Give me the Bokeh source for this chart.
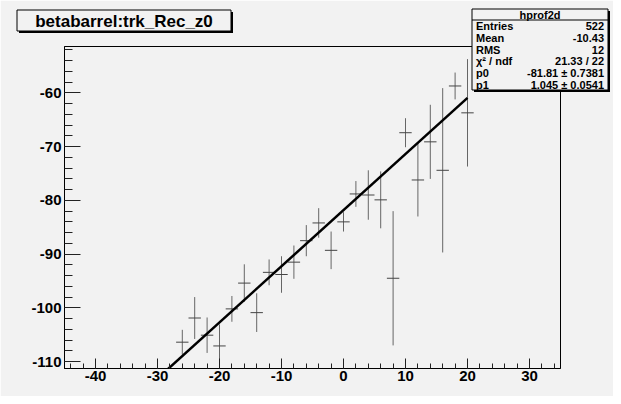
from bokeh.plotting import figure
from bokeh.layouts import column
from bokeh.models import SingleIntervalTicker, Range1d, PrintfTickFormatter
from bokeh.core.properties import value
from bokeh.embed import file_html
from bokeh.resources import INLINE

# ---------------- data ----------------
title_text = "betabarrel:trk_Rec_z0"
bin_centers = [-26, -24, -22, -20, -18, -16, -14, -12, -10, -8, -6, -4, -2,
               0, 2, 4, 6, 8, 10, 12, 14, 16, 18, 20]
bin_means = [-106.4, -101.9, -105.1, -107.1, -100.2, -95.4, -100.9, -93.4, -93.8,
             -91.5, -87.5, -84.2, -89.3, -84.0, -78.8, -79.0, -79.9, -94.5,
             -67.4, -76.2, -69.1, -74.4, -58.7, -63.7]
bin_errors = [2.3, 3.9, 3.3, 4.0, 2.4, 3.5, 3.6, 2.4, 3.4, 3.1, 2.9, 2.75, 3.5,
              1.8, 2.4, 4.6, 5.3, 12.5, 2.7, 6.8, 6.9, 15.3, 2.5, 10.0]
bin_width = 2.0
fit_p0 = -81.81
fit_p1 = 1.045
fit_x = [-30, 20]
stats_title = "hprof2d"
stats_names = ["Entries", "Mean", "RMS", "\u03c7\u00b2 / ndf", "p0", "p1"]
stats_values = ["522", "-10.43", "12", "21.33 / 22",
                "-81.81 \u00b1 0.7381", "1.045 \u00b1 0.0541"]

X0, X1 = -45, 35
Y0, Y1 = -111.3, -51.35

# ---------------- layout ----------------
W, H = 613, 396
FL, FT, FW, FH = 64, 46, 496, 322
BG = "#f2f2f2"
FONT = "Liberation Sans"

p = figure(width=W, height=H, output_backend="svg", toolbar_location=None,
           x_range=Range1d(X0, X1), y_range=Range1d(Y0, Y1),
           frame_width=FW, frame_height=FH,
           min_border_left=FL, min_border_right=W - FL - FW,
           min_border_top=FT, min_border_bottom=H - FT - FH)
p.frame_align = False
p.background_fill_color = BG
p.border_fill_color = BG
p.outline_line_color = "black"
p.outline_line_width = 1
p.grid.visible = False

for ax, tin, mtin in ((p.xaxis[0], 10, 5), (p.yaxis[0], 16, 8)):
    ax.ticker = SingleIntervalTicker(interval=10, num_minor_ticks=5)
    ax.formatter = PrintfTickFormatter(format="%d")
    ax.axis_line_color = "black"
    ax.major_tick_in = tin
    ax.major_tick_out = 0
    ax.minor_tick_in = mtin
    ax.minor_tick_out = 0
    ax.major_tick_line_color = "#222222"
    ax.minor_tick_line_color = "#222222"
    ax.major_label_text_font = FONT
    ax.major_label_text_font_style = "bold"
    ax.major_label_text_font_size = "15px"
    ax.major_label_text_color = "black"
p.xaxis.major_label_standoff = 2
p.yaxis.major_label_standoff = 3

# error crosses
hx0 = [c - bin_width / 2 for c in bin_centers]
hx1 = [c + bin_width / 2 for c in bin_centers]
vy0 = [m - e for m, e in zip(bin_means, bin_errors)]
vy1 = [m + e for m, e in zip(bin_means, bin_errors)]
p.segment(x0=bin_centers, x1=bin_centers, y0=vy0, y1=vy1, line_color="#666666", line_width=1)
p.segment(x0=hx0, x1=hx1, y0=bin_means, y1=bin_means, line_color="#444444", line_width=1)

# fit line
fit_y = [fit_p0 + fit_p1 * x for x in fit_x]
p.line(fit_x, fit_y, line_color="black", line_width=2.5)

# ---------------- overlay (title box + stats box) in pixel space ----------------
o = figure(width=W, height=H, output_backend="svg", toolbar_location=None,
           x_range=Range1d(0, W), y_range=Range1d(H, 0),
           x_axis_type=None, y_axis_type=None, min_border=0,
           frame_width=W, frame_height=H,
           margin=(-H, 0, 0, 0))
o.frame_align = False
o.background_fill_alpha = 0
o.border_fill_alpha = 0
o.outline_line_color = None

# title box
tl, tr, tt, tb = 16.5, 230.5, 9.5, 30.5
o.quad(left=[tl + 2], right=[tr + 2], top=[tt + 2], bottom=[tb + 2],
       fill_color="black", line_color=None)
o.quad(left=[tl], right=[tr], top=[tt], bottom=[tb],
       fill_color=BG, line_color="black", line_width=1)
o.text(x=[(tl + tr) / 2], y=[(tt + tb) / 2 + 0.5], text=[title_text],
       text_font=value(FONT), text_font_style="bold", text_font_size="17px",
       text_align="center", text_baseline="middle", text_color="black")

# stats box
sl, sr, st, sb = 471.5, 607.5, 8.5, 89.5
o.quad(left=[sl + 2], right=[sr + 2], top=[st + 2], bottom=[sb + 2],
       fill_color="black", line_color=None)
o.quad(left=[sl], right=[sr], top=[st], bottom=[sb],
       fill_color=BG, line_color="black", line_width=1)
o.segment(x0=[sl], x1=[sr], y0=[19.5], y1=[19.5], line_color="black", line_width=1)
o.text(x=[(sl + sr) / 2], y=[14.5], text=[stats_title],
       text_font=value(FONT), text_font_style="bold", text_font_size="11px",
       text_align="center", text_baseline="middle", text_color="black")
row_y = [25.5 + i * 11.8 for i in range(len(stats_names))]
o.text(x=[sl + 4] * len(stats_names), y=row_y, text=stats_names,
       text_font=value(FONT), text_font_style="bold", text_font_size="11px",
       text_align="left", text_baseline="middle", text_color="black")
o.text(x=[sr - 4] * len(stats_values), y=row_y, text=stats_values,
       text_font=value(FONT), text_font_style="bold", text_font_size="11px",
       text_align="right", text_baseline="middle", text_color="black")

layout = column(p, o, spacing=0)
open("out.html", "w").write(file_html(layout, INLINE))
